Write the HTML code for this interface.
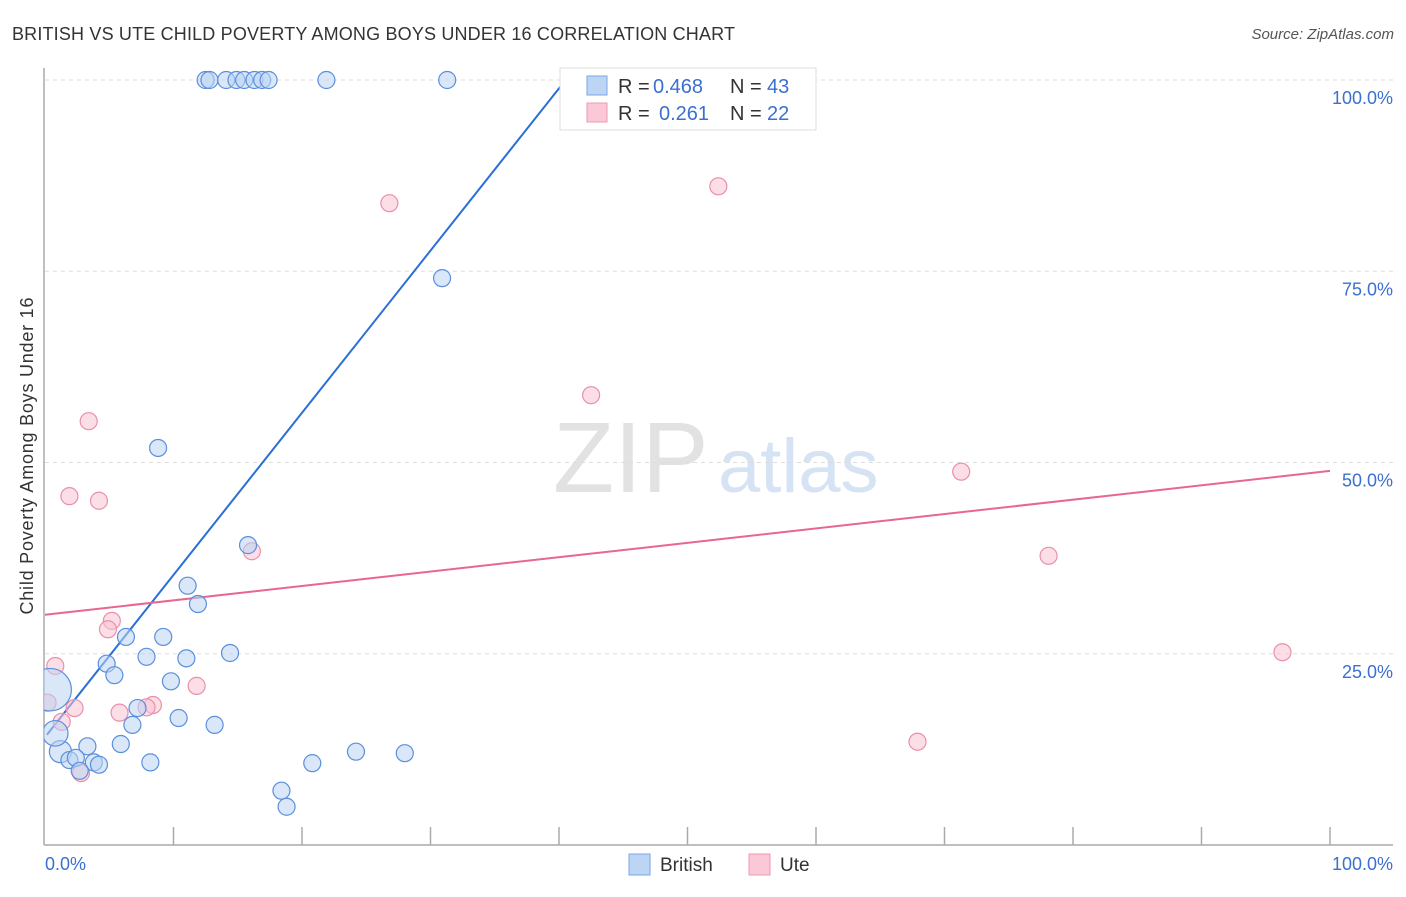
<!DOCTYPE html>
<html><head><meta charset="utf-8"><style>
body{margin:0;background:#fff;font-family:"Liberation Sans",sans-serif}
svg text{font-family:"Liberation Sans",sans-serif}
</style></head><body>
<svg width="1406" height="892" viewBox="0 0 1406 892">
<defs><clipPath id="plotclip"><rect x="44" y="60" width="1360" height="786"/></clipPath></defs>
<text x="12" y="40" font-size="18" fill="#333" textLength="723">BRITISH VS UTE CHILD POVERTY AMONG BOYS UNDER 16 CORRELATION CHART</text>
<text x="1394" y="39" font-size="15" fill="#555" font-style="italic" text-anchor="end">Source: ZipAtlas.com</text>
<g>
<text x="553" y="492" font-size="100" fill="#e2e2e2" font-family="Liberation Serif,serif">ZIP</text>
<text x="718" y="492" font-size="76" fill="#d6e3f4">atlas</text>
</g>
<g id="grid"></g>
<g id="axes"></g>
<g id="lines"></g>
<g id="pts" clip-path="url(#plotclip)"></g>
<text transform="translate(33,456) rotate(-90)" font-size="18" fill="#333" text-anchor="middle" textLength="317">Child Poverty Among Boys Under 16</text>
<text x="45" y="870" font-size="18" fill="#3b6fd0">0.0%</text>
<text x="1393" y="870" font-size="18" fill="#3b6fd0" text-anchor="end">100.0%</text>
<g>
<rect x="560" y="68" width="256" height="62" fill="#fff" stroke="#ddd"/>
<rect x="587" y="76" width="20" height="19" fill="#bcd5f5" stroke="#7aa6e6"/>
<rect x="587" y="103" width="20" height="19" fill="#fac8d6" stroke="#ee98b2"/>
<text x="618" y="93" font-size="20" fill="#333">R = <tspan x="653" fill="#3b6fd0">0.468</tspan><tspan x="730">N = </tspan><tspan x="767" fill="#3b6fd0">43</tspan></text>
<text x="618" y="120" font-size="20" fill="#333">R = <tspan x="659" fill="#3b6fd0">0.261</tspan><tspan x="730">N = </tspan><tspan x="767" fill="#3b6fd0">22</tspan></text>
</g>
<g>
<rect x="629" y="854" width="21" height="21" fill="#bcd5f5" stroke="#7aa6e6"/>
<text x="660" y="871" font-size="19" fill="#333">British</text>
<rect x="749" y="854" width="21" height="21" fill="#fac8d6" stroke="#ee98b2"/>
<text x="780" y="871" font-size="19" fill="#333">Ute</text>
</g>
</svg>
<script>
const yTicks=[25,50,75,100];
const yTickLabels=["25.0%","50.0%","75.0%","100.0%"];
const xTicks=[10,20,30,40,50,60,70,80,90,100];
const britishX=[12.5,12.8,14.1,14.9,15.5,16.3,16.9,17.4,21.9,31.3,30.9,8.8,15.8,11.1,11.9,6.3,9.2,4.8,5.4,7.9,11.0,14.4,9.8,7.2,6.8,10.4,13.2,5.9,8.2,3.3,1.2,1.9,2.4,3.8,4.2,2.7,0.4,0.8,20.8,24.2,28.0,18.4,18.8];
const britishY=[100,100,100,100,100,100,100,100,100,100,74.1,51.9,39.2,33.9,31.5,27.2,27.2,23.7,22.2,24.6,24.4,25.1,21.4,17.9,15.7,16.6,15.7,13.2,10.8,12.9,12.2,11.1,11.4,10.8,10.5,9.7,20.3,14.6,10.7,12.2,12.0,7.1,5.0];
const britishSize=[1,1,1,1,1,1,1,1,1,1,1,1,1,1,1,1,1,1,1,1,1,1,1,1,1,1,1,1,1,1,1.3,1,1,1,1,1,2.5,1.5,1,1,1,1,1];
const uteX=[26.8,52.4,42.5,3.4,1.9,4.2,16.1,5.2,4.9,0.8,11.8,8.4,7.9,5.8,2.3,0.2,1.3,2.8,71.3,78.1,96.3,67.9];
const uteY=[83.9,86.1,58.8,55.4,45.6,45.0,38.4,29.3,28.2,23.4,20.8,18.3,18.0,17.3,17.9,18.6,16.1,9.4,48.8,37.8,25.2,13.5];
const britishTrend=[14.1,2.12];
const uteTrend=[30.1,0.188];
const NS="http://www.w3.org/2000/svg";
const xs=v=>45+v*12.85, ys=v=>845-v*7.65;
function mk(t,a,p){const e=document.createElementNS(NS,t);for(const k in a)e.setAttribute(k,a[k]);document.getElementById(p).appendChild(e);return e;}
yTicks.forEach((v,i)=>{
 const l=mk('line',{x1:45,x2:1393,y1:ys(v),y2:ys(v),stroke:'#ddd','stroke-dasharray':'4,4'},'grid');
 
 
 const t=mk('text',{x:1393,y:ys(v)+24,'font-size':18,fill:'#3b6fd0','text-anchor':'end'},'grid');
 t.textContent=yTickLabels[i];
 
 
});
const ya=mk('line',{x1:44,x2:44,y1:68,y2:845,stroke:'#aaa','stroke-width':1.5},'axes');


const xa=mk('line',{x1:44,x2:1393,y1:845,y2:845,stroke:'#aaa','stroke-width':1.5},'axes');


xTicks.forEach(v=>{const t=mk('line',{x1:xs(v),x2:xs(v),y1:827,y2:845,stroke:'#aaa','stroke-width':1.5},'axes');
 
 });
function dot(x,y,r,f,s,n){const c=mk('circle',{cx:xs(x),cy:ys(y),r:r,fill:f,stroke:s,'stroke-width':1.2,'fill-opacity':0.55},'pts');
 
 }
uteX.forEach((x,i)=>dot(x,uteY[i],8.5,'#f9c3d3','#ea8fab','ute-point'));
britishX.forEach((x,i)=>dot(x,britishY[i],8.5*britishSize[i],'#b9d3f3','#5b8fdc','british-point'));
const bx2=40.1;
const bl=mk('line',{x1:xs(0.15),y1:ys(britishTrend[0]+britishTrend[1]*0.15),x2:xs(bx2),y2:ys(britishTrend[0]+britishTrend[1]*bx2),stroke:'#2a6fd6','stroke-width':2},'lines');


const ul=mk('line',{x1:xs(0),y1:ys(uteTrend[0]),x2:xs(100),y2:ys(uteTrend[0]+uteTrend[1]*100),stroke:'#e8668f','stroke-width':2},'lines');


</script>
</body></html>
